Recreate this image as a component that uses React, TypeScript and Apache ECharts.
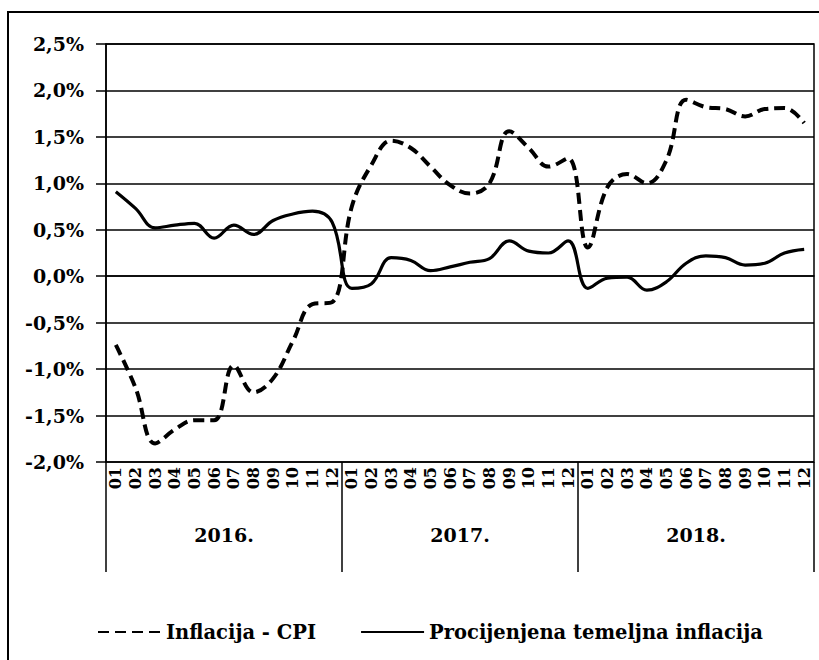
import React, { useEffect, useRef } from "react";
import * as echarts from "echarts";

const monthLabels = [
  "01", "02", "03", "04", "05", "06", "07", "08", "09", "10", "11", "12",
  "01", "02", "03", "04", "05", "06", "07", "08", "09", "10", "11", "12",
  "01", "02", "03", "04", "05", "06", "07", "08", "09", "10", "11", "12",
];
const yearLabels = ["2016.", "2017.", "2018."];
const cpi = [
  -0.74, -1.2, -1.8, -1.65, -1.55, -1.55, -0.96, -1.25, -1.1, -0.7, -0.3, -0.28,
  0.75, 1.2, 1.46, 1.38, 1.18, 0.98, 0.89, 1.0, 1.56, 1.38, 1.18, 1.27,
  0.31, 0.96, 1.1, 1.0, 1.25, 1.9, 1.82, 1.8, 1.72, 1.8, 1.81, 1.65,
];
const core = [
  0.91, 0.73, 0.52, 0.55, 0.57, 0.41, 0.55, 0.45, 0.6, 0.67, 0.7, 0.58,
  -0.13, -0.08, 0.2, 0.17, 0.06, 0.1, 0.15, 0.19, 0.38, 0.27, 0.25, 0.38,
  -0.13, -0.02, -0.01, -0.15, -0.06, 0.14, 0.22, 0.2, 0.12, 0.14, 0.25, 0.29,
];
const seriesNames = ["Inflacija - CPI", "Procijenjena temeljna inflacija"];

const FONT = "DejaVu Serif";

export default function App() {
  const ref = useRef<HTMLDivElement>(null);
  useEffect(() => {
    if (!ref.current) return;
    const chart = echarts.init(ref.current, null, { renderer: "svg" });
    chart.setOption({
      animation: false,
      backgroundColor: "#fff",
      textStyle: { fontFamily: FONT },
      graphic: [
        {
          type: "rect",
          shape: { x: 8, y: 12, width: 1000, height: 1000 },
          style: { fill: "none", stroke: "#000", lineWidth: 2 },
          silent: true,
        },
      ],
      grid: {
        left: 106,
        right: 5,
        top: 44,
        bottom: 198,
        show: true,
        borderColor: "#000",
        borderWidth: 1.5,
      },
      legend: {
        left: 92,
        top: 617,
        itemWidth: 63,
        itemHeight: 14,
        itemGap: 44,
        data: seriesNames,
        itemStyle: { opacity: 0, borderWidth: 0 },
        textStyle: { fontFamily: FONT, fontWeight: "bold", fontSize: 19.5, color: "#000" },
      },
      xAxis: [
        {
          type: "category",
          position: "bottom",
          data: monthLabels,
          boundaryGap: true,
          axisLine: { lineStyle: { color: "#000", width: 1.5 } },
          axisTick: { show: false },
          axisLabel: {
            interval: 0,
            rotate: 90,
            margin: 5,
            fontFamily: FONT,
            fontWeight: "bold",
            fontSize: 16,
            color: "#000",
          },
        },
        {
          type: "category",
          position: "bottom",
          data: yearLabels,
          boundaryGap: true,
          axisLine: { show: false },
          axisTick: { show: true, interval: 0, length: 110, lineStyle: { color: "#000", width: 1.5 } },
          axisLabel: {
            interval: 0,
            margin: 63,
            fontFamily: FONT,
            fontWeight: "bold",
            fontSize: 19,
            color: "#000",
          },
        },
      ],
      yAxis: {
        type: "value",
        min: -2,
        max: 2.5,
        interval: 0.5,
        axisLine: { show: true, lineStyle: { color: "#000", width: 1.5 } },
        axisTick: { show: true, length: 10, lineStyle: { color: "#000", width: 1.5 } },
        splitLine: { lineStyle: { color: "#000", width: 1.5 } },
        axisLabel: {
          margin: 22,
          fontFamily: FONT,
          fontWeight: "bold",
          fontSize: 19,
          color: "#000",
          formatter: (v: number) => v.toFixed(1).replace(".", ",") + "%",
        },
      },
      series: [
        {
          name: seriesNames[0],
          type: "line",
          data: cpi,
          smooth: 0.4,
          showSymbol: false,
          symbol: "none",
          lineStyle: { color: "#000", width: 4, type: [11, 6] },
          itemStyle: { color: "#000" },
        },
        {
          name: seriesNames[1],
          type: "line",
          data: core,
          smooth: 0.4,
          showSymbol: false,
          symbol: "none",
          lineStyle: { color: "#000", width: 3.2 },
          itemStyle: { color: "#000" },
        },
      ],
    });
    return () => chart.dispose();
  }, []);
  return (
    <div
      ref={ref}
      style={{ position: "fixed", left: 0, top: 0, width: 819, height: 660, overflow: "hidden" }}
    />
  );
}
